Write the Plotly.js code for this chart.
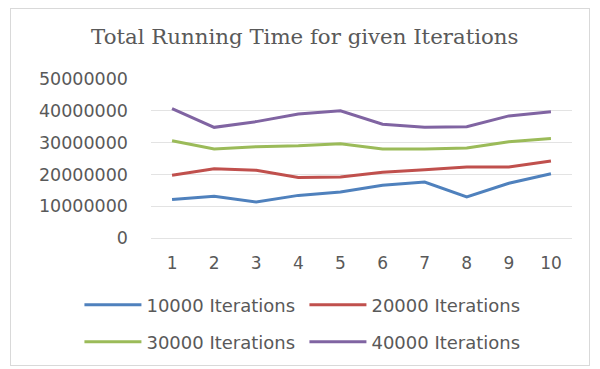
<!DOCTYPE html>
<html><head><meta charset="utf-8">
<script src="https://cdn.plot.ly/plotly-3.0.1.min.js"></script>
<style>
html,body{margin:0;padding:0;background:#fff;}
#frame{position:absolute;left:10px;top:8px;width:580px;height:358px;border:1px solid #d9d9d9;box-sizing:border-box;}
#chart{position:absolute;left:0;top:0;width:600px;height:369px;}
</style></head>
<body>
<div id="frame"></div>
<div id="chart"></div>
<script>
var runs = ['1','2','3','4','5','6','7','8','9','10'];
var it10000 = [12100000, 13100000, 11300000, 13400000, 14500000, 16600000, 17600000, 12900000, 17200000, 20200000];
var it20000 = [19700000, 21800000, 21300000, 19000000, 19200000, 20700000, 21500000, 22300000, 22300000, 24200000];
var it30000 = [30600000, 28000000, 28700000, 29000000, 29600000, 28000000, 28000000, 28300000, 30300000, 31300000];
var it40000 = [40700000, 34800000, 36600000, 39000000, 40000000, 35800000, 34800000, 35000000, 38400000, 39700000];
var names = ['10000 Iterations','20000 Iterations','30000 Iterations','40000 Iterations'];
var colors = ['#4F81BD','#C0504D','#9BBB59','#8064A2'];
var series = [it10000, it20000, it30000, it40000];
var legendIds = ['legend','legend','legend2','legend2'];
var traces = series.map(function(s,i){
  return {x: runs, y: s, type:'scatter', mode:'lines', name: names[i], legend: legendIds[i],
          line:{color: colors[i], width:3}};
});
var legFont = {family:'DejaVu Sans', size:18, color:'#595959'};
var layout = {
  width:600, height:369,
  margin:{l:151, r:28, t:79, b:131, autoexpand:false},
  paper_bgcolor:'rgba(0,0,0,0)', plot_bgcolor:'rgba(0,0,0,0)',
  title:{text:'Total Running Time for given Iterations', x:0.508, xanchor:'center', y:0.9, yanchor:'middle',
         font:{family:'DejaVu Serif', size:21.3, color:'#595959'}},
  font:{family:'DejaVu Sans', color:'#595959', size:17},
  xaxis:{type:'category', range:[-0.5,9.5], showgrid:false, zeroline:false, showline:false, ticks:'',
         ticklabelstandoff:13,
         tickfont:{family:'DejaVu Sans', size:17, color:'#595959'}},
  yaxis:{range:[0,50000000], dtick:10000000, tickformat:'d', showgrid:true, gridcolor:'#e3e3e3', gridwidth:1,
         zeroline:true, zerolinecolor:'#e3e3e3', zerolinewidth:1, ticks:'', ticklabelstandoff:22,
         tickfont:{family:'DejaVu Sans', size:17.5, color:'#595959'}},
  legend:{orientation:'h', x:-0.17, xanchor:'left', y:-0.421, yanchor:'middle',
          font:legFont, entrywidth:153, itemwidth:57},
  legend2:{orientation:'h', x:-0.17, xanchor:'left', y:-0.654, yanchor:'middle',
          font:legFont, entrywidth:153, itemwidth:57},
  showlegend:true
};
Plotly.newPlot('chart', traces, layout, {staticPlot:true});
</script>
</body></html>
